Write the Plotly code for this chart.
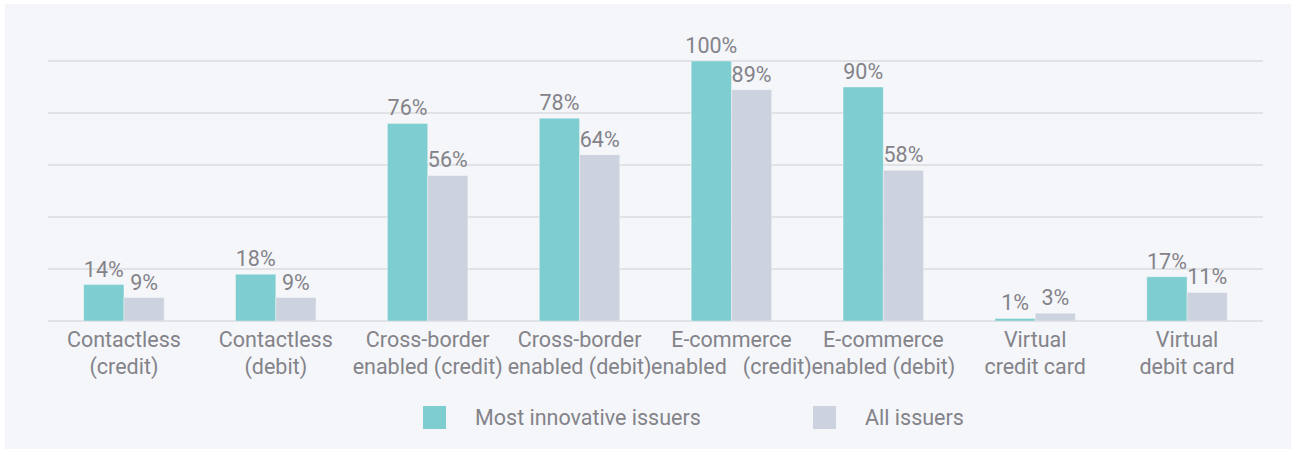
import plotly.graph_objects as go

# categories and values
categories = [
    "Contactless<br>(credit)",
    "Contactless<br>(debit)",
    "Cross-border<br>enabled (credit)",
    "Cross-border<br>enabled (debit)",
    "E-commerce<br>enabled   (credit)",
    "E-commerce<br>enabled (debit)",
    "Virtual<br>credit card",
    "Virtual<br>debit card",
]
most_innovative = [14, 18, 76, 78, 100, 90, 1, 17]
all_issuers = [9, 9, 56, 64, 89, 58, 3, 11]
series_names = ["Most innovative issuers", "All issuers"]

TEAL = "#7ecdd0"
GREY = "#ccd3de"
TEXT = "#838389"
BG = "#f5f6fa"
FONT = "Roboto, Arial, sans-serif"
FS = 21.5

W, H = 1291, 449
ML, MR, MT, MB = 48, 28, 60, 128
pw = W - ML - MR
ph = H - MT - MB
YMAX = 100.4  # a hair over 100 so the top gridline is drawn


def px_x(p):
    # pixel x -> paper x
    return (p - ML) / pw


def px_y(p):
    # pixel y -> paper y
    return (H - MB - p) / ph


fig = go.Figure()
for name, vals, col in [(series_names[0], most_innovative, TEAL),
                        (series_names[1], all_issuers, GREY)]:
    fig.add_trace(go.Bar(
        x=categories, y=vals, name=name, showlegend=False,
        marker=dict(color=col, line=dict(color="rgba(255,255,255,0.35)", width=1)),
        text=[f"{v}%" for v in vals], textposition="outside",
        constraintext="none",
        textfont=dict(size=FS, color=TEXT, family=FONT), cliponaxis=False,
    ))

# grey panel behind everything, thin white border top/left
fig.add_shape(
    type="rect", layer="below", xref="paper", yref="paper",
    x0=px_x(5), x1=px_x(W + 5), y0=px_y(H + 5), y1=px_y(4),
    fillcolor=BG, line=dict(width=0),
)

# legend: squares + labels
for name, col, sq_x, txt_x in [(series_names[0], TEAL, 423, 473),
                               (series_names[1], GREY, 813, 863)]:
    fig.add_shape(
        type="rect", xref="paper", yref="paper",
        x0=px_x(sq_x), x1=px_x(sq_x + 23), y0=px_y(429), y1=px_y(406),
        fillcolor=col, line=dict(width=0),
    )
    fig.add_annotation(
        xref="paper", yref="paper", x=px_x(txt_x), y=px_y(417),
        xanchor="left", yanchor="middle", showarrow=False,
        text=name, font=dict(size=FS, color=TEXT, family=FONT),
    )

fig.update_layout(
    width=W, height=H,
    margin=dict(l=ML, r=MR, t=MT, b=MB, autoexpand=False),
    paper_bgcolor="white", plot_bgcolor=BG,
    barmode="group", bargap=0.47, bargroupgap=0,
    font=dict(family=FONT, size=FS, color=TEXT),
    showlegend=False,
    xaxis=dict(
        tickfont=dict(size=FS, color=TEXT), showgrid=False, tickangle=0,
        showline=False, ticks="", automargin=False, ticklabelstandoff=3,
    ),
    yaxis=dict(
        range=[0, YMAX], tick0=0, dtick=20, showticklabels=False, automargin=False,
        gridcolor="#e1e2e5", gridwidth=2, zeroline=True,
        zerolinecolor="#e1e2e5", zerolinewidth=2, showline=False,
    ),
)

fig.write_html(
    "out.html",
    config={"displayModeBar": False},
    post_script="document.body.style.margin='0';",
)
